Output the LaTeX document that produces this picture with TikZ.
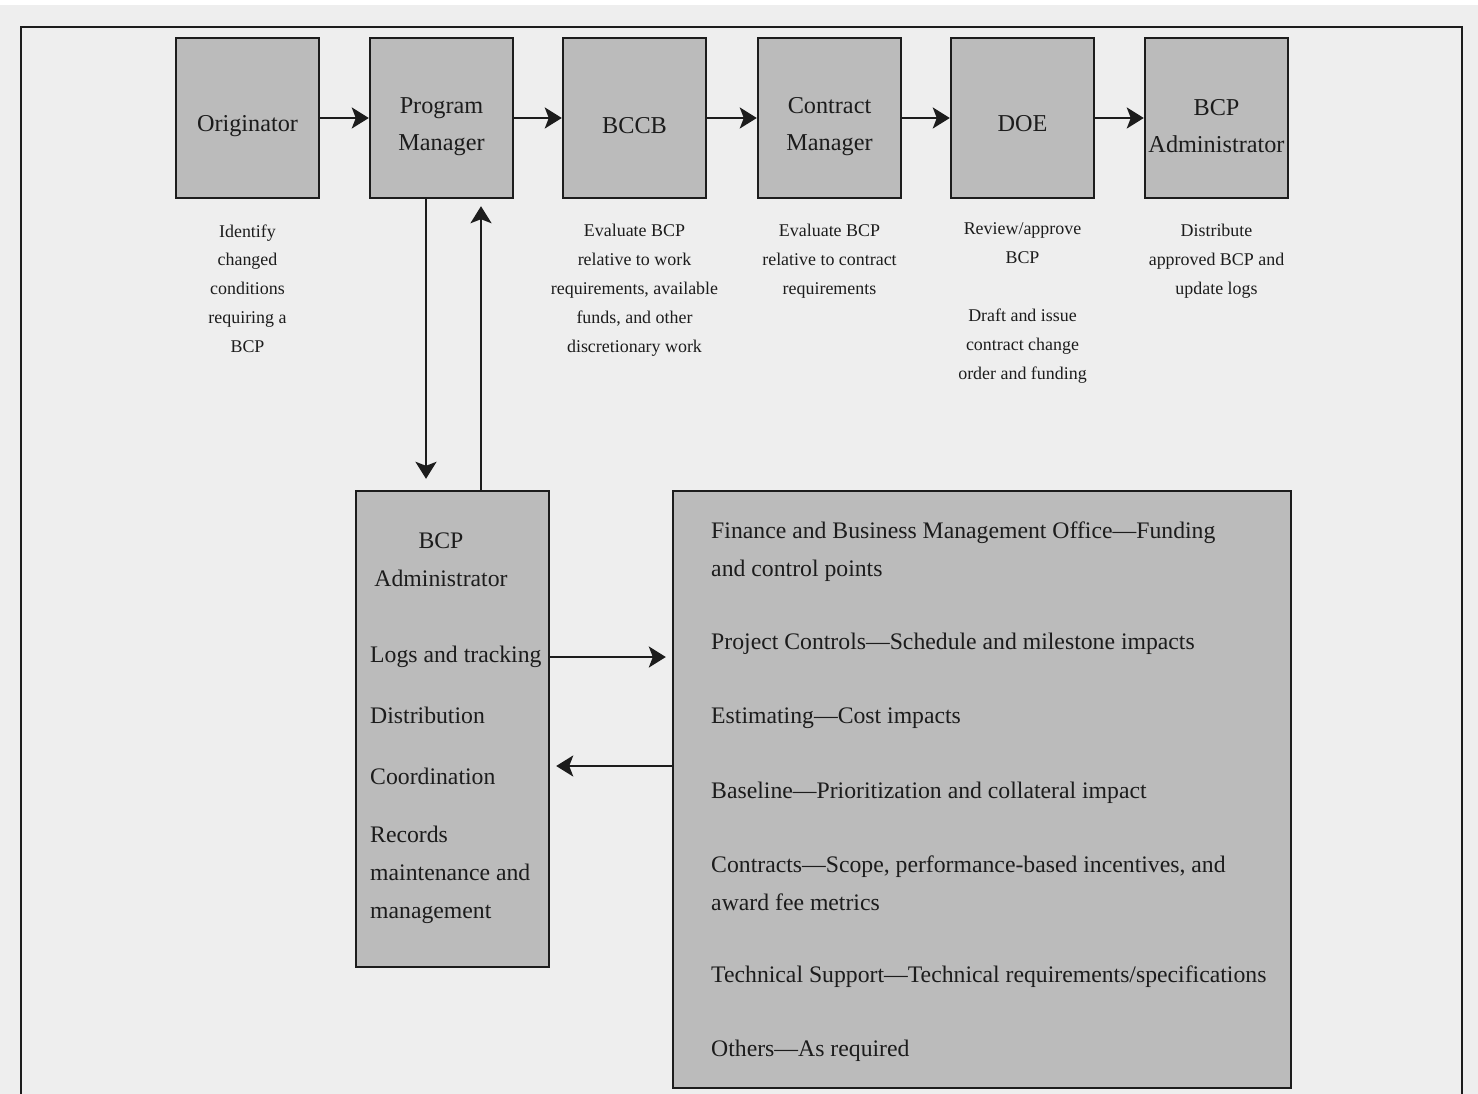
\documentclass[tikz,border=0pt]{standalone}
\usepackage{fontspec}
\setmainfont{Liberation Serif}
\usetikzlibrary{arrows.meta, positioning, calc}
\definecolor{cpaper}{HTML}{EEEEEE}
\definecolor{cbox}{HTML}{BBBBBB}
\definecolor{cink}{HTML}{1C1C1C}
\tikzset{
  every picture/.style={line width=1.4pt},
  box/.style={draw=cink, fill=cbox, align=center, inner sep=0pt, text=cink,
    font=\fontsize{13.8}{21}\selectfont},
  stage/.style={box, minimum width=2.86cm, minimum height=3.2cm,
    execute at begin node={\rule{0pt}{#1}}},
  stage/.default=18pt,
  arrow/.style={-{Stealth[length=3.4mm, width=4.2mm, inset=0.8mm]}, draw=cink, line width=1.4pt},
  note/.style={font=\fontsize{10.2}{16.4}\selectfont, text=cink, align=center, inner sep=0pt},
  item/.style={font=\fontsize{13.5}{21.5}\selectfont, text=cink, align=left, inner sep=0pt, anchor=north west},
}
\begin{document}
\begin{tikzpicture}[x=0.02cm, y=-0.02cm]
  \useasboundingbox (0,0) rectangle (1478,1094);
  \fill[cpaper] (0,0) rectangle (1478,1094);
  \fill[white] (0,0) rectangle (1478,5);
  \draw[cink, line width=0.8pt] (21,1094) -- (21,27) -- (1462,27) -- (1462,1094);
  % the approval chain
  \node[stage] (orig) at (247.5,118) {Originator};
  \node[stage=40pt] (pm) at (441.5,118)   {Program\\ Manager};
  \node[stage] (bccb) at (634.5,118) {BCCB};
  \node[stage=40pt] (cm) at (829.5,118)   {Contract\\ Manager};
  \node[stage=16pt] (doe) at (1022.5,118) {DOE};
  \node[stage=39pt] (bcpa) at (1216.5,118) {BCP\\ Administrator};
  \foreach \a/\b in {orig/pm, pm/bccb, bccb/cm, cm/doe, doe/bcpa} \draw[arrow] (\a) -- (\b);
  % what each one does
  \node[note, below=0.48cm of orig, anchor=north] (origtask) {Identify\\ changed\\ conditions\\ requiring a\\ BCP};
  \node[note, below=0.48cm of bccb, anchor=north] (bccbtask) {Evaluate BCP\\ relative to work\\ requirements, available\\ funds, and other\\ discretionary work};
  \node[note, below=0.48cm of cm, anchor=north] (cmtask) {Evaluate BCP\\ relative to contract\\ requirements};
  \node[note, below=0.44cm of doe, anchor=north] (doetask) {Review/approve\\ BCP\\[17pt] Draft and issue\\ contract change\\ order and funding};
  \node[note, below=0.48cm of bcpa, anchor=north] (bcpatask) {Distribute\\ approved BCP and\\ update logs};
  % administrator and supporting offices
  \node[box, minimum width=3.86cm, minimum height=9.52cm] (admin) at (452.5,729) {};
  \node[item, align=center, anchor=north] (admtitle) at (441,532) {BCP\\ Administrator};
  \node[item] (logs) at (369,645)  {Logs and tracking};
  \node[item] (dist) at (369,706)  {Distribution};
  \node[item] (coord) at (369,767) {Coordination};
  \node[item] (rec) at (369,825)   {Records\\ maintenance and\\ management};
  \node[box, minimum width=12.36cm, minimum height=11.94cm] (offices) at (982,789.5) {};
  \node[item] (fin) at (710,521)    {Finance and Business Management Office---Funding\\ and control points};
  \node[item] (proj) at (710,632)   {Project Controls---Schedule and milestone impacts};
  \node[item] (est) at (710,707)    {Estimating---Cost impacts};
  \node[item] (base) at (710,781)   {Baseline---Prioritization and collateral impact};
  \node[item] (contr) at (710,855)  {Contracts---Scope, performance-based incentives, and\\ award fee metrics};
  \node[item] (tech) at (710,965)   {Technical Support---Technical requirements/specifications};
  \node[item] (others) at (710,1039) {Others---As required};
  % links
  \coordinate (down) at (426,300);
  \coordinate (up) at (481,300);
  \coordinate (back) at (600,766);
  \draw[arrow, shorten >=0.22cm] (pm.south -| down) -- (admin.north -| down);
  \draw[arrow, shorten >=0.14cm] (admin.north -| up) -- (pm.south -| up);
  \draw[arrow, shorten >=0.12cm] (admin.east |- logs) -- (offices.west |- logs);
  \draw[arrow, shorten >=0.12cm] (offices.west |- back) -- (admin.east |- back);
\end{tikzpicture}
\end{document}
